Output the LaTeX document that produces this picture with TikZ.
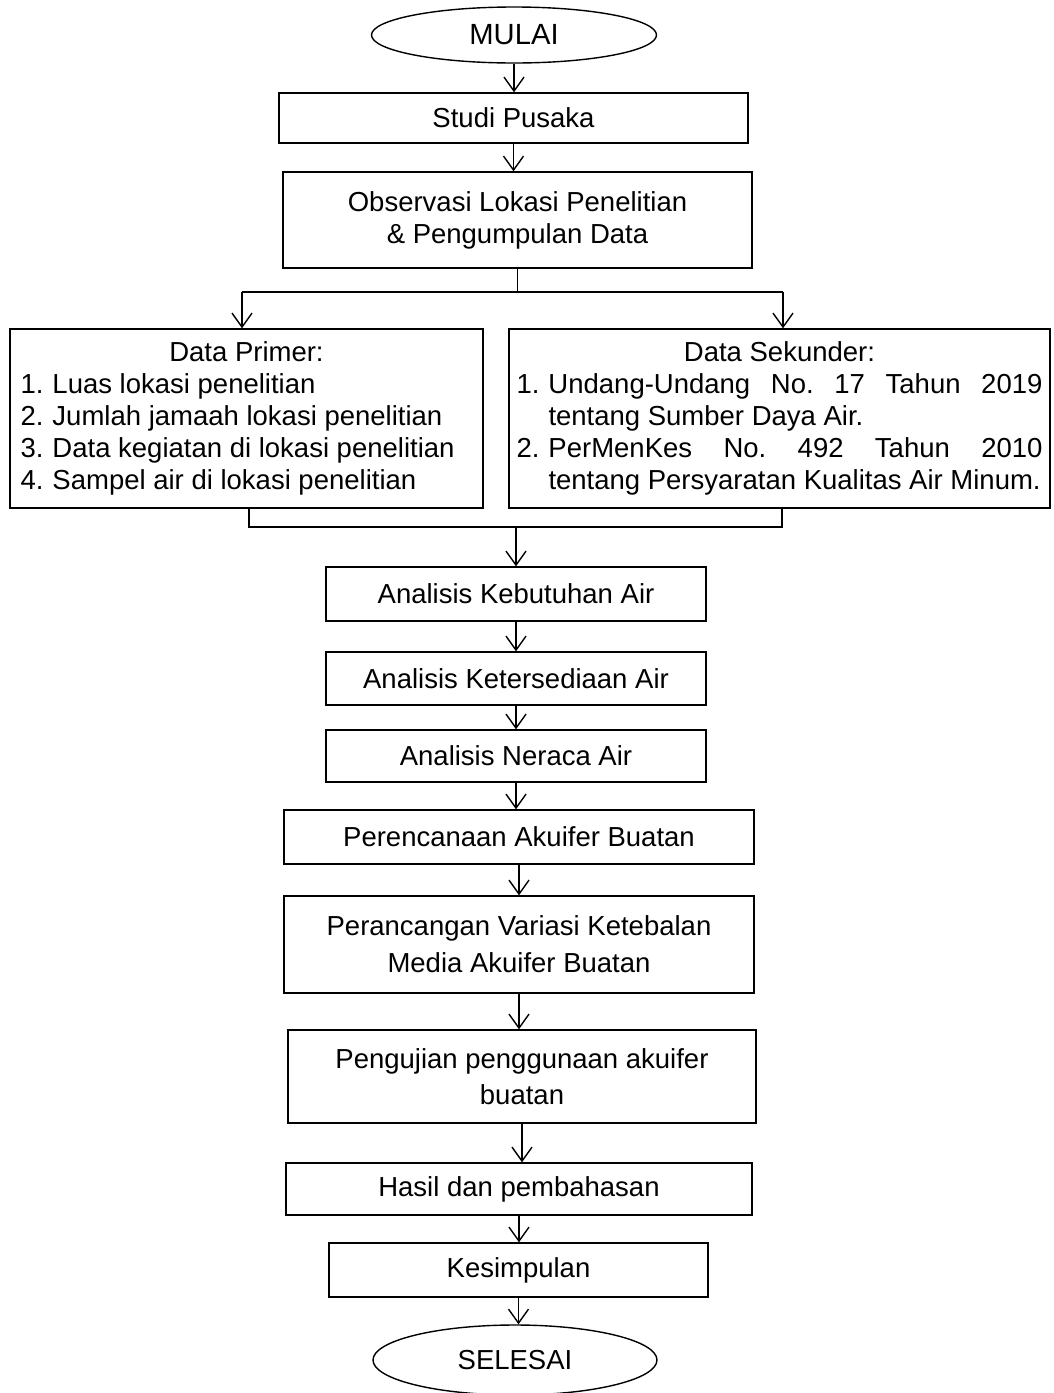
\documentclass[tikz,border=0pt]{standalone}
\usepackage{fontspec}
\setmainfont{Liberation Sans}
\usetikzlibrary{shapes.geometric,arrows.meta}
\newcommand{\nomor}[1]{\makebox[16pt][l]{#1.}}
\frenchspacing

\begin{document}
\begin{tikzpicture}[x=0.5pt,y=-0.5pt,
  kotak/.style={draw,line width=0.7pt,rectangle,align=center,inner sep=0pt,font=\fontsize{13.75}{16}\selectfont},
  elips/.style={draw,line width=0.7pt,ellipse,inner sep=0pt,font=\fontsize{13.75}{16}\selectfont},
  panah/.style={line width=0.7pt,-{Straight Barb[length=7pt,width=10pt,line width=0.7pt]}},
  garis/.style={line width=0.7pt}]
\useasboundingbox (0,0) rectangle (1054,1393); % Page size
% Start and research steps
\node[elips,minimum width=142.5pt,minimum height=28pt,font=\fontsize{14.6}{16}\selectfont] (mulai) at (514,35) {MULAI}; % Start
\node[kotak,minimum width=234.5pt,minimum height=25pt] (studi) at (513.5,118) {Studi Pusaka};
\node[kotak,minimum width=234.5pt,minimum height=48pt] (observasi) at (517.5,220) {Observasi Lokasi Penelitian\\ \& Pengumpulan Data};
% Data boxes
\node[kotak,minimum width=236.5pt,minimum height=89.5pt] (primer) at (246.5,418.5) {\parbox{226pt}{\centering Data Primer:\par\raggedright
\nomor{1}Luas lokasi penelitian\\
\nomor{2}Jumlah jamaah lokasi penelitian\\
\nomor{3}Data kegiatan di lokasi penelitian\\
\nomor{4}Sampel air di lokasi penelitian}};
\node[kotak,minimum width=270.5pt,minimum height=89.5pt] (sekunder) at (779.5,418.5) {\parbox{263pt}{\centering Data Sekunder:\par\raggedright
\nomor{1}\makebox[247pt][s]{Undang-Undang No. 17 Tahun 2019}\\
\hspace*{16pt}tentang Sumber Daya Air.\\
\nomor{2}\makebox[247pt][s]{PerMenKes No. 492 Tahun 2010}\\
\hspace*{16pt}tentang Persyaratan Kualitas Air Minum.}};
% Analysis steps
\node[kotak,minimum width=190pt,minimum height=27pt] (kebutuhan) at (516,594) {Analisis Kebutuhan Air};
\node[kotak,minimum width=190pt,minimum height=26.5pt] (ketersediaan) at (516,678.5) {Analisis Ketersediaan Air};
\node[kotak,minimum width=190pt,minimum height=26pt] (neraca) at (516,756) {Analisis Neraca Air};
\node[kotak,minimum width=235pt,minimum height=27pt] (perencanaan) at (519,837) {Perencanaan Akuifer Buatan};
\node[kotak,minimum width=235pt,minimum height=48.5pt] (perancangan) at (519,944.5) {Perancangan Variasi Ketebalan\\[2.5pt] Media Akuifer Buatan};
\node[kotak,minimum width=234pt,minimum height=46.5pt] (pengujian) at (522,1076.5) {Pengujian penggunaan akuifer\\[2pt] buatan};
\node[kotak,minimum width=233pt,minimum height=26pt] (hasil) at (519,1189) {Hasil dan pembahasan};
\node[kotak,minimum width=189.5pt,minimum height=27pt] (kesimpulan) at (518.5,1270) {Kesimpulan};
\node[elips,minimum width=142pt,minimum height=35pt] (selesai) at (515,1360) {SELESAI}; % End
% Branch and join points
\coordinate (pisahL) at (242,292);
\coordinate (pisahR) at (783,292);
\coordinate (gabungL) at (249,527);
\coordinate (gabungR) at (782,527);
% Connectors
\draw[panah] (mulai.south) -- (mulai.south |- studi.north);
\draw[panah] (studi.south) -- (studi.south |- observasi.north);
\draw[garis] (observasi.south) -- (observasi.south |- pisahL);
\draw[garis] (pisahL) -- (pisahR);
\draw[panah] (pisahL) -- (pisahL |- primer.north);
\draw[panah] (pisahR) -- (pisahR |- sekunder.north);
\draw[garis] (gabungL |- primer.south) -- (gabungL) -- (gabungR) -- (gabungR |- sekunder.south);
\draw[panah] (kebutuhan.north |- gabungL) -- (kebutuhan.north);
\draw[panah] (kebutuhan.south) -- (kebutuhan.south |- ketersediaan.north);
\draw[panah] (ketersediaan.south) -- (ketersediaan.south |- neraca.north);
\draw[panah] (neraca.south) -- (neraca.south |- perencanaan.north);
\draw[panah] (perencanaan.south) -- (perencanaan.south |- perancangan.north);
\draw[panah] (perancangan.south) -- (perancangan.south |- pengujian.north);
\draw[panah] (pengujian.south) -- (pengujian.south |- hasil.north);
\draw[panah] (hasil.south) -- (hasil.south |- kesimpulan.north);
\draw[panah] (kesimpulan.south) -- (kesimpulan.south |- selesai.north);
\end{tikzpicture}
\end{document}
